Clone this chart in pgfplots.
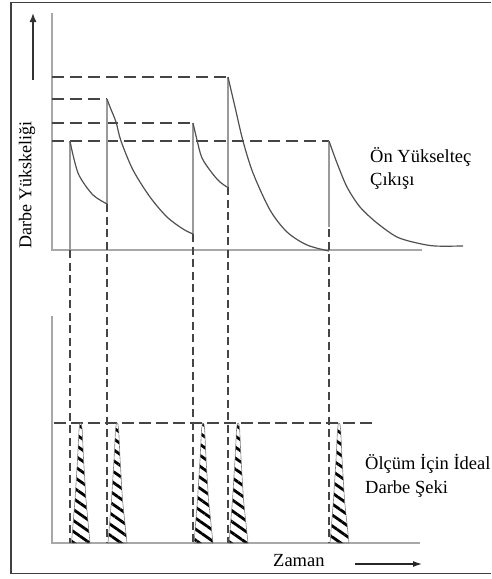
\documentclass[border=0pt]{standalone}
\usepackage{pgfplots}
\pgfplotsset{compat=1.18}
\usepackage{fontspec}
\setmainfont{Liberation Serif}
\usetikzlibrary{patterns.meta,arrows.meta}
\definecolor{axgray}{HTML}{A8A8A8}
\definecolor{vgray}{HTML}{9A9A9A}
\definecolor{cgray}{HTML}{505050}
\definecolor{dgray}{HTML}{454545}
\begin{document}
\begin{tikzpicture}
\begin{axis}[
  width=491pt, height=579pt, scale only axis,
  xmin=0, xmax=491, ymin=0, ymax=579, y dir=reverse,
  axis lines=none, clip=false,
]
% invisible extent (fixes the picture's bounding box)
\addplot[draw=none, forget plot] coordinates {(0,0) (491,579)};
% frame
\addplot[black!75, line width=1.3pt] coordinates {(491,2.5) (11,2.5) (11,573.5) (491,573.5)};
% axes (top panel)
\addplot[axgray, line width=1.4pt] coordinates {(52,13) (52,250) (422,250)};
% axes (bottom panel)
\addplot[axgray, line width=1.4pt] coordinates {(52,316) (52,543) (420,543)};
% horizontal dashed levels
\addplot[dgray, line width=1.2pt, dash pattern=on 12pt off 6pt] coordinates {(52,141) (329,141)};
\addplot[dgray, line width=1.2pt, dash pattern=on 12pt off 6pt] coordinates {(52,123) (193,123)};
\addplot[dgray, line width=1.2pt, dash pattern=on 12pt off 6pt] coordinates {(52,99) (107,99)};
\addplot[dgray, line width=1.2pt, dash pattern=on 12pt off 6pt] coordinates {(52,77) (228,77)};
\addplot[dgray, line width=1.2pt, dash pattern=on 12pt off 5pt] coordinates {(54,423) (372,423)};
% solid pulse edges
\addplot[vgray, line width=1.4pt] coordinates {(70,141) (70,250)};
\addplot[vgray, line width=1.4pt] coordinates {(107,99) (107,204)};
\addplot[vgray, line width=1.4pt] coordinates {(193,123) (193,234)};
\addplot[vgray, line width=1.4pt] coordinates {(228,77) (228,187)};
\addplot[vgray, line width=1.4pt] coordinates {(329,141) (329,227)};
% vertical dashed links
\addplot[dgray, line width=1.2pt, dash pattern=on 8pt off 4.5pt] coordinates {(70,250) (70,543)};
\addplot[dgray, line width=1.2pt, dash pattern=on 8pt off 4.5pt] coordinates {(107,204) (107,543)};
\addplot[dgray, line width=1.2pt, dash pattern=on 8pt off 4.5pt] coordinates {(193,234) (193,543)};
\addplot[dgray, line width=1.2pt, dash pattern=on 8pt off 4.5pt] coordinates {(228,187) (228,543)};
\addplot[dgray, line width=1.2pt, dash pattern=on 8pt off 4.5pt] coordinates {(329,229) (329,543)};
% decay curves
\addplot[cgray, line width=1.2pt, smooth] coordinates {(70,141) (73,155) (78,173) (85,185) (93,195) (100,200) (107,204)};
\addplot[cgray, line width=1.2pt, smooth] coordinates {(107,99) (110,107) (116,122) (121,141) (133,170) (150,197) (167,217) (183,229) (193,234)};
\addplot[cgray, line width=1.2pt, smooth] coordinates {(193,123) (197,140) (202,158) (212,173) (220,182) (227,187)};
\addplot[cgray, line width=1.2pt, smooth] coordinates {(228,77) (235,107) (243,141) (253,173) (270,210) (287,232) (307,245) (329,251)};
\addplot[cgray, line width=1.2pt, smooth] coordinates {(329,141) (337,163) (347,187) (360,207) (377,223) (397,237) (417,243) (435,246) (463,246)};
% ideal pulses (hatched)
\addplot[draw=gray, line width=0.6pt, pattern={Lines[angle=-35,distance=9pt,line width=2.8pt]}, pattern color=black]
  coordinates {(71.5,543) (75,500) (77.5,460) (79,430) (79.8,424) (80.6,423) (81.4,424) (82.2,430) (83.6,460) (86,500) (90,543)} -- cycle;
\addplot[draw=gray, line width=0.6pt, pattern={Lines[angle=-35,distance=9pt,line width=2.8pt]}, pattern color=black]
  coordinates {(108,543) (111.5,500) (114,460) (115.5,430) (116.3,424) (117.1,423) (117.9,424) (118.7,430) (120.1,460) (122.5,500) (127,543)} -- cycle;
\addplot[draw=gray, line width=0.6pt, pattern={Lines[angle=-35,distance=9pt,line width=2.8pt]}, pattern color=black]
  coordinates {(194,543) (197.5,500) (200,460) (201.5,430) (202.3,424) (203.1,423) (203.9,424) (204.7,430) (206.1,460) (208.5,500) (213,543)} -- cycle;
\addplot[draw=gray, line width=0.6pt, pattern={Lines[angle=-35,distance=9pt,line width=2.8pt]}, pattern color=black]
  coordinates {(229,543) (232.5,500) (235,460) (236.5,430) (237.3,424) (238.1,423) (238.9,424) (239.7,430) (241.1,460) (243.5,500) (248,543)} -- cycle;
\addplot[draw=gray, line width=0.6pt, pattern={Lines[angle=-35,distance=9pt,line width=2.8pt]}, pattern color=black]
  coordinates {(330,543) (333.5,500) (336,460) (337.5,430) (338.3,424) (339.1,423) (339.9,424) (340.7,430) (342.1,460) (344.5,500) (349,543)} -- cycle;
% arrows
\addplot[black!80, line width=1.4pt, -{Latex[length=9pt,width=7pt]}] coordinates {(33,80) (33,13)};
\addplot[black!85, line width=1.2pt, -{Latex[length=9pt,width=6pt]}] coordinates {(355,564) (422,564)};
% texts
\node[rotate=90, font=\fontsize{18}{21}\selectfont, inner sep=0pt] at (axis cs:27,185) {Darbe Yükskeliği};
\node[anchor=base west, font=\fontsize{18.5}{21}\selectfont, inner sep=0pt] at (axis cs:370,162.5) {Ön Yükselteç};
\node[anchor=base west, font=\fontsize{18.5}{21}\selectfont, inner sep=0pt] at (axis cs:370,185.5) {Çıkışı};
\node[anchor=base west, font=\fontsize{18.5}{21}\selectfont, inner sep=0pt] at (axis cs:365,469) {Ölçüm İçin İdeal};
\node[anchor=base west, font=\fontsize{18.5}{21}\selectfont, inner sep=0pt] at (axis cs:365,493) {Darbe Şeki};
\node[anchor=base west, font=\fontsize{18.5}{21}\selectfont, inner sep=0pt] at (axis cs:273,566.5) {Zaman};
\end{axis}
\end{tikzpicture}
\end{document}
